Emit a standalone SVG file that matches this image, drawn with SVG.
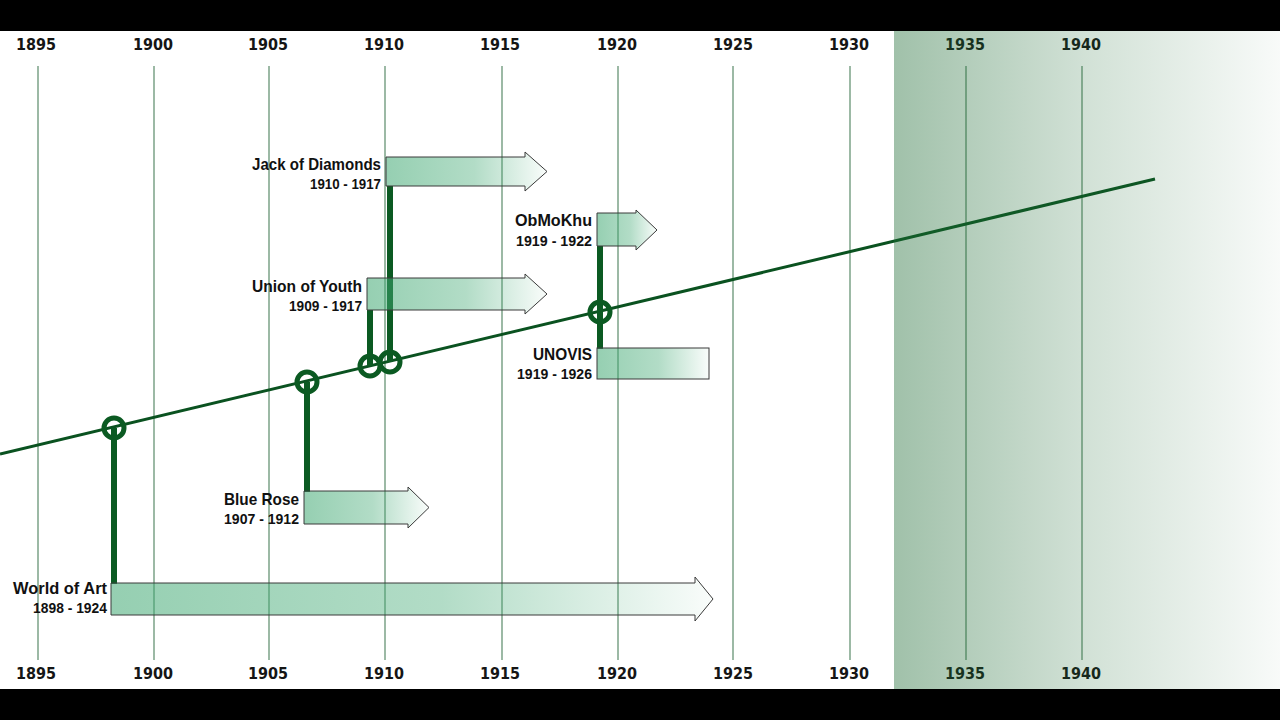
<svg xmlns="http://www.w3.org/2000/svg" width="1280" height="720" viewBox="0 0 1280 720">
<style>
.yr{font-family:"DejaVu Sans Condensed","DejaVu Sans","Liberation Sans",sans-serif;font-stretch:condensed;font-weight:bold;font-size:16px;fill:#151515;text-anchor:middle}
.grid line{stroke:#5a8a69;stroke-width:1.2}
.nm{font-family:"Liberation Sans","DejaVu Sans",sans-serif;font-weight:bold;font-size:17px;fill:#111;text-anchor:end}
.dt{font-family:"Liberation Sans","DejaVu Sans",sans-serif;font-weight:bold;font-size:14px;fill:#111;text-anchor:end}
.bar{fill:url(#barg);stroke:#3a3a3a;stroke-width:1}
.stem{stroke:#0b5a22;stroke-width:6;fill:none}
.ring{stroke:#0b5a22;stroke-width:5;fill:none}
</style>
<defs>
<linearGradient id="barg" x1="0" y1="0" x2="1" y2="0">
<stop offset="0" stop-color="#3fa872" stop-opacity="0.55"/>
<stop offset="0.55" stop-color="#3fa872" stop-opacity="0.4"/>
<stop offset="1" stop-color="#3fa872" stop-opacity="0.03"/>
</linearGradient>
<linearGradient id="shade" x1="0" y1="0" x2="1" y2="0">
<stop offset="0" stop-color="#1e6b34" stop-opacity="0.42"/>
<stop offset="0.5" stop-color="#1e6b34" stop-opacity="0.2"/>
<stop offset="1" stop-color="#1e6b34" stop-opacity="0.03"/>
</linearGradient>
</defs>
<rect x="0" y="0" width="1280" height="720" fill="#ffffff"/>
<g id="axis">
<g class="grid">
<line x1="38" y1="66" x2="38" y2="660"/>
<line x1="154" y1="66" x2="154" y2="660"/>
<line x1="269" y1="66" x2="269" y2="660"/>
<line x1="385" y1="66" x2="385" y2="660"/>
<line x1="502" y1="66" x2="502" y2="660"/>
<line x1="618" y1="66" x2="618" y2="660"/>
<line x1="733" y1="66" x2="733" y2="660"/>
<line x1="850" y1="66" x2="850" y2="660"/>
<line x1="966" y1="66" x2="966" y2="660"/>
<line x1="1082" y1="66" x2="1082" y2="660"/>
</g>
<g>
<text class="yr" x="36" y="50">1895</text>
<text class="yr" x="153" y="50">1900</text>
<text class="yr" x="268" y="50">1905</text>
<text class="yr" x="384" y="50">1910</text>
<text class="yr" x="500" y="50">1915</text>
<text class="yr" x="617" y="50">1920</text>
<text class="yr" x="733" y="50">1925</text>
<text class="yr" x="849" y="50">1930</text>
<text class="yr" x="965" y="50">1935</text>
<text class="yr" x="1081" y="50">1940</text>
<text class="yr" x="36" y="679">1895</text>
<text class="yr" x="153" y="679">1900</text>
<text class="yr" x="268" y="679">1905</text>
<text class="yr" x="384" y="679">1910</text>
<text class="yr" x="500" y="679">1915</text>
<text class="yr" x="617" y="679">1920</text>
<text class="yr" x="733" y="679">1925</text>
<text class="yr" x="849" y="679">1930</text>
<text class="yr" x="965" y="679">1935</text>
<text class="yr" x="1081" y="679">1940</text>
</g>
</g>
<g id="connectors">
<line x1="0" y1="454" x2="1155" y2="179" stroke="#0a5220" stroke-width="3"/>
<line class="stem" x1="114" y1="428" x2="114" y2="584"/>
<line class="stem" x1="307" y1="382" x2="307" y2="492"/>
<line class="stem" x1="370" y1="366" x2="370" y2="310"/>
<line class="stem" x1="390" y1="362" x2="390" y2="186"/>
<line class="stem" x1="600" y1="312" x2="600" y2="246"/>
<line class="stem" x1="600" y1="312" x2="600" y2="349"/>
<circle class="ring" cx="114" cy="428" r="10"/>
<circle class="ring" cx="307" cy="382" r="10"/>
<circle class="ring" cx="370" cy="366" r="10"/>
<circle class="ring" cx="390" cy="362" r="10"/>
<circle class="ring" cx="600" cy="312" r="10"/>
</g>
<g id="world-of-art">
<path class="bar" d="M111,583 H695 V577 L713,599 L695,621 V615 H111 Z"/>
<text class="nm" x="107" y="594" textLength="94" lengthAdjust="spacingAndGlyphs">World of Art</text>
<text class="dt" x="107" y="613" textLength="74" lengthAdjust="spacingAndGlyphs">1898 - 1924</text>
</g>
<g id="blue-rose">
<path class="bar" d="M304,491 H408 V487 L429,507.5 L408,528 V524 H304 Z"/>
<text class="nm" x="299" y="505" textLength="75" lengthAdjust="spacingAndGlyphs">Blue Rose</text>
<text class="dt" x="299" y="524" textLength="75" lengthAdjust="spacingAndGlyphs">1907 - 1912</text>
</g>
<g id="union-of-youth">
<path class="bar" d="M367,278 H525 V274 L547,294 L525,314 V310 H367 Z"/>
<text class="nm" x="362" y="292" textLength="110" lengthAdjust="spacingAndGlyphs">Union of Youth</text>
<text class="dt" x="362" y="311" textLength="73" lengthAdjust="spacingAndGlyphs">1909 - 1917</text>
</g>
<g id="jack-of-diamonds">
<path class="bar" d="M386,157 H525 V152 L547,171.5 L525,191 V186 H386 Z"/>
<text class="nm" x="381" y="170" textLength="129" lengthAdjust="spacingAndGlyphs">Jack of Diamonds</text>
<text class="dt" x="381" y="189" textLength="71" lengthAdjust="spacingAndGlyphs">1910 - 1917</text>
</g>
<g id="obmokhu">
<path class="bar" d="M597,213 H636 V210 L657,230 L636,250 V246 H597 Z"/>
<text class="nm" x="592" y="226" textLength="77" lengthAdjust="spacingAndGlyphs">ObMoKhu</text>
<text class="dt" x="592" y="246" textLength="76" lengthAdjust="spacingAndGlyphs">1919 - 1922</text>
</g>
<g id="unovis">
<rect class="bar" x="597" y="348" width="112" height="31"/>
<text class="nm" x="592" y="360" textLength="59" lengthAdjust="spacingAndGlyphs">UNOVIS</text>
<text class="dt" x="592" y="379" textLength="75" lengthAdjust="spacingAndGlyphs">1919 - 1926</text>
</g>
<rect id="future-shade" x="894" y="31" width="386" height="658" fill="url(#shade)"/>
<rect x="0" y="0" width="1280" height="31" fill="#000"/>
<rect x="0" y="689" width="1280" height="31" fill="#000"/>
</svg>
